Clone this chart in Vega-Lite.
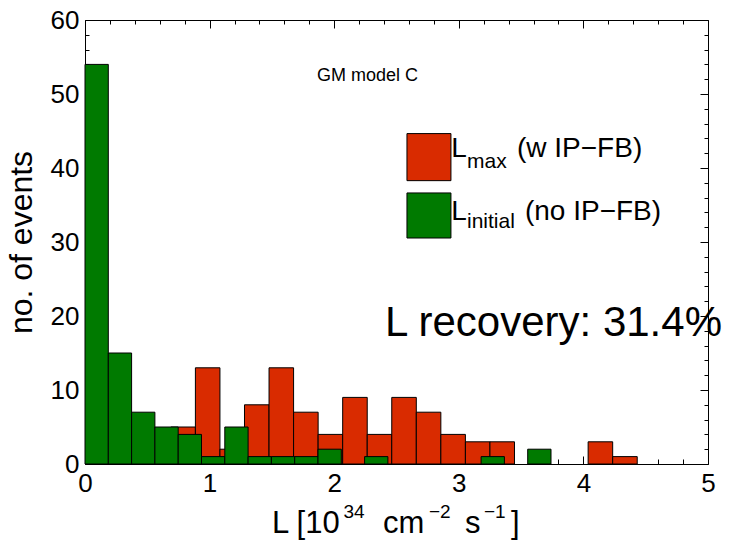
{
  "$schema": "https://vega.github.io/schema/vega-lite/v6.json",
  "width": 623,
  "height": 444,
  "autosize": {"type": "none"},
  "padding": {"left": 85, "top": 20, "right": 22, "bottom": 78},
  "background": "white",
  "config": {
    "font": "Liberation Sans",
    "view": {"stroke": "black", "strokeWidth": 1},
    "axis": {
      "domain": false,
      "grid": false,
      "ticks": true,
      "tickSize": -8,
      "tickColor": "black",
      "tickWidth": 1,
      "labelColor": "black",
      "labelFont": "Liberation Sans",
      "labelFontSize": 26,
      "labelFlush": false,
      "labelOverlap": false,
      "titleFont": "Liberation Sans",
      "titleFontWeight": "normal",
      "titleColor": "black",
      "zindex": 1
    }
  },
  "datasets": {
    "bars": [
      {"series": "max", "lo": 0.689, "hi": 0.886, "n": 5},
      {"series": "max", "lo": 0.886, "hi": 1.083, "n": 13},
      {"series": "max", "lo": 1.083, "hi": 1.280, "n": 2},
      {"series": "max", "lo": 1.280, "hi": 1.477, "n": 8},
      {"series": "max", "lo": 1.477, "hi": 1.674, "n": 13},
      {"series": "max", "lo": 1.674, "hi": 1.871, "n": 7},
      {"series": "max", "lo": 1.871, "hi": 2.068, "n": 4},
      {"series": "max", "lo": 2.068, "hi": 2.265, "n": 9},
      {"series": "max", "lo": 2.265, "hi": 2.462, "n": 4},
      {"series": "max", "lo": 2.462, "hi": 2.659, "n": 9},
      {"series": "max", "lo": 2.659, "hi": 2.856, "n": 7},
      {"series": "max", "lo": 2.856, "hi": 3.053, "n": 4},
      {"series": "max", "lo": 3.053, "hi": 3.250, "n": 3},
      {"series": "max", "lo": 3.250, "hi": 3.447, "n": 3},
      {"series": "max", "lo": 4.038, "hi": 4.235, "n": 3},
      {"series": "max", "lo": 4.235, "hi": 4.432, "n": 1},
      {"series": "initial", "lo": 0.000, "hi": 0.187, "n": 54},
      {"series": "initial", "lo": 0.187, "hi": 0.374, "n": 15},
      {"series": "initial", "lo": 0.374, "hi": 0.561, "n": 7},
      {"series": "initial", "lo": 0.561, "hi": 0.748, "n": 5},
      {"series": "initial", "lo": 0.748, "hi": 0.935, "n": 4},
      {"series": "initial", "lo": 0.935, "hi": 1.122, "n": 1},
      {"series": "initial", "lo": 1.122, "hi": 1.309, "n": 5},
      {"series": "initial", "lo": 1.309, "hi": 1.496, "n": 1},
      {"series": "initial", "lo": 1.496, "hi": 1.683, "n": 1},
      {"series": "initial", "lo": 1.683, "hi": 1.870, "n": 1},
      {"series": "initial", "lo": 1.870, "hi": 2.057, "n": 2},
      {"series": "initial", "lo": 2.244, "hi": 2.431, "n": 1},
      {"series": "initial", "lo": 3.179, "hi": 3.366, "n": 1},
      {"series": "initial", "lo": 3.553, "hi": 3.740, "n": 2}
    ],
    "keys": [
      {"series": "max", "x0": 2.584, "x1": 2.937, "y0": 38.29, "y1": 44.65},
      {"series": "initial", "x0": 2.584, "x1": 2.937, "y0": 30.54, "y1": 36.63}
    ],
    "notes": [
      {"kind": "key", "text": "L", "x": 2.94, "y": 41.54},
      {"kind": "sub", "text": "max", "x": 3.066, "y": 40.05},
      {"kind": "key", "text": "(w IP−FB)", "x": 3.467, "y": 41.54},
      {"kind": "key", "text": "L", "x": 2.94, "y": 33.02},
      {"kind": "sub", "text": "initial", "x": 3.066, "y": 31.94},
      {"kind": "key", "text": "(no IP−FB)", "x": 3.531, "y": 33.02},
      {"kind": "caption", "text": "GM model C", "x": 1.862, "y": 51.73},
      {"kind": "big", "text": "L recovery: 31.4%", "x": 2.408, "y": 17.23},
      {"kind": "title", "text": "L [10", "x": 1.50, "y": -9.34},
      {"kind": "sup", "text": "34", "x": 2.075, "y": -7.31},
      {"kind": "title", "text": "cm", "x": 2.392, "y": -9.34},
      {"kind": "sup", "text": "−2", "x": 2.761, "y": -7.31},
      {"kind": "title", "text": "s", "x": 3.050, "y": -9.34},
      {"kind": "sup", "text": "−1", "x": 3.202, "y": -7.31},
      {"kind": "title", "text": "]", "x": 3.419, "y": -9.34}
    ]
  },
  "resolve": {"axis": {"x": "independent", "y": "independent"}},
  "layer": [
    {
      "data": {"name": "bars"},
      "transform": [{"filter": "datum.series === 'max'"}],
      "mark": {"type": "rect", "stroke": "black", "strokeWidth": 1},
      "encoding": {
        "x": {
          "field": "lo", "type": "quantitative",
          "scale": {"domain": [0, 5], "nice": false},
          "axis": {
            "orient": "bottom",
            "title": null,
            "values": [0, 0.2, 0.4, 0.6, 0.8, 1, 1.2, 1.4, 1.6, 1.8, 2, 2.2, 2.4, 2.6, 2.8, 3, 3.2, 3.4, 3.6, 3.8, 4, 4.2, 4.4, 4.6, 4.8, 5],
            "labelExpr": "abs(datum.value - round(datum.value)) < 0.001 ? format(datum.value, 'd') : ''",
            "tickDash": {"condition": {"test": "abs(datum.value - round(datum.value)) < 0.001", "value": []}, "value": [5, 30]},
            "labelPadding": 14
          }
        },
        "x2": {"field": "hi"},
        "y": {
          "field": "n", "type": "quantitative",
          "scale": {"domain": [0, 60], "nice": false},
          "axis": {
            "orient": "left",
            "title": "no. of events",
            "titleFontSize": 32,
            "titlePadding": 12,
            "values": [0, 2, 4, 6, 8, 10, 12, 14, 16, 18, 20, 22, 24, 26, 28, 30, 32, 34, 36, 38, 40, 42, 44, 46, 48, 50, 52, 54, 56, 58, 60],
            "labelExpr": "datum.value % 10 === 0 ? format(datum.value, 'd') : ''",
            "tickDash": {"condition": {"test": "datum.value % 10 === 0", "value": []}, "value": [4, 30]},
            "labelPadding": 14
          }
        },
        "y2": {"datum": 0},
        "color": {"field": "series", "type": "nominal", "scale": {"domain": ["max", "initial"], "range": ["#d92b00", "#007a00"]}, "legend": null}
      }
    },
    {
      "data": {"name": "bars"},
      "transform": [{"filter": "datum.series === 'initial'"}],
      "mark": {"type": "rect", "stroke": "black", "strokeWidth": 1},
      "encoding": {
        "x": {
          "field": "lo", "type": "quantitative",
          "scale": {"domain": [0, 5], "nice": false},
          "axis": {
            "orient": "top",
            "title": null,
            "labels": false,
            "values": [0, 0.2, 0.4, 0.6, 0.8, 1, 1.2, 1.4, 1.6, 1.8, 2, 2.2, 2.4, 2.6, 2.8, 3, 3.2, 3.4, 3.6, 3.8, 4, 4.2, 4.4, 4.6, 4.8, 5],
            "tickDash": {"condition": {"test": "abs(datum.value - round(datum.value)) < 0.001", "value": []}, "value": [4, 30]}
          }
        },
        "x2": {"field": "hi"},
        "y": {
          "field": "n", "type": "quantitative",
          "scale": {"domain": [0, 60], "nice": false},
          "axis": {
            "orient": "right",
            "title": null,
            "labels": false,
            "values": [0, 2, 4, 6, 8, 10, 12, 14, 16, 18, 20, 22, 24, 26, 28, 30, 32, 34, 36, 38, 40, 42, 44, 46, 48, 50, 52, 54, 56, 58, 60],
            "tickDash": {"condition": {"test": "datum.value % 10 === 0", "value": []}, "value": [4, 30]}
          }
        },
        "y2": {"datum": 0},
        "color": {"field": "series", "type": "nominal", "scale": {"domain": ["max", "initial"], "range": ["#d92b00", "#007a00"]}, "legend": null}
      }
    },
    {
      "data": {"name": "keys"},
      "mark": {"type": "rect", "stroke": "black", "strokeWidth": 1},
      "encoding": {
        "x": {"field": "x0", "type": "quantitative", "scale": {"domain": [0, 5], "nice": false}, "axis": null},
        "x2": {"field": "x1"},
        "y": {"field": "y0", "type": "quantitative", "scale": {"domain": [0, 60], "nice": false}, "axis": null},
        "y2": {"field": "y1"},
        "color": {"field": "series", "type": "nominal", "scale": {"domain": ["max", "initial"], "range": ["#d92b00", "#007a00"]}, "legend": null}
      }
    },
    {
      "data": {"name": "notes"},
      "transform": [{"filter": "datum.kind === 'key'"}],
      "mark": {"type": "text", "align": "left", "baseline": "alphabetic", "font": "Liberation Sans", "fontSize": 28, "color": "black"},
      "encoding": {
        "x": {"field": "x", "type": "quantitative", "scale": {"domain": [0, 5], "nice": false}, "axis": null},
        "y": {"field": "y", "type": "quantitative", "scale": {"domain": [0, 60], "nice": false}, "axis": null},
        "text": {"field": "text"}
      }
    },
    {
      "data": {"name": "notes"},
      "transform": [{"filter": "datum.kind === 'sub'"}],
      "mark": {"type": "text", "align": "left", "baseline": "alphabetic", "font": "Liberation Sans", "fontSize": 21, "color": "black"},
      "encoding": {
        "x": {"field": "x", "type": "quantitative", "scale": {"domain": [0, 5], "nice": false}, "axis": null},
        "y": {"field": "y", "type": "quantitative", "scale": {"domain": [0, 60], "nice": false}, "axis": null},
        "text": {"field": "text"}
      }
    },
    {
      "data": {"name": "notes"},
      "transform": [{"filter": "datum.kind === 'caption'"}],
      "mark": {"type": "text", "align": "left", "baseline": "alphabetic", "font": "Liberation Sans", "fontSize": 18, "color": "black"},
      "encoding": {
        "x": {"field": "x", "type": "quantitative", "scale": {"domain": [0, 5], "nice": false}, "axis": null},
        "y": {"field": "y", "type": "quantitative", "scale": {"domain": [0, 60], "nice": false}, "axis": null},
        "text": {"field": "text"}
      }
    },
    {
      "data": {"name": "notes"},
      "transform": [{"filter": "datum.kind === 'big'"}],
      "mark": {"type": "text", "align": "left", "baseline": "alphabetic", "font": "Liberation Sans", "fontSize": 42, "color": "black"},
      "encoding": {
        "x": {"field": "x", "type": "quantitative", "scale": {"domain": [0, 5], "nice": false}, "axis": null},
        "y": {"field": "y", "type": "quantitative", "scale": {"domain": [0, 60], "nice": false}, "axis": null},
        "text": {"field": "text"}
      }
    },
    {
      "data": {"name": "notes"},
      "transform": [{"filter": "datum.kind === 'title'"}],
      "mark": {"type": "text", "align": "left", "baseline": "alphabetic", "font": "Liberation Sans", "fontSize": 31, "color": "black"},
      "encoding": {
        "x": {"field": "x", "type": "quantitative", "scale": {"domain": [0, 5], "nice": false}, "axis": null},
        "y": {"field": "y", "type": "quantitative", "scale": {"domain": [0, 60], "nice": false}, "axis": null},
        "text": {"field": "text"}
      }
    },
    {
      "data": {"name": "notes"},
      "transform": [{"filter": "datum.kind === 'sup'"}],
      "mark": {"type": "text", "align": "left", "baseline": "alphabetic", "font": "Liberation Sans", "fontSize": 19, "color": "black"},
      "encoding": {
        "x": {"field": "x", "type": "quantitative", "scale": {"domain": [0, 5], "nice": false}, "axis": null},
        "y": {"field": "y", "type": "quantitative", "scale": {"domain": [0, 60], "nice": false}, "axis": null},
        "text": {"field": "text"}
      }
    }
  ]
}
